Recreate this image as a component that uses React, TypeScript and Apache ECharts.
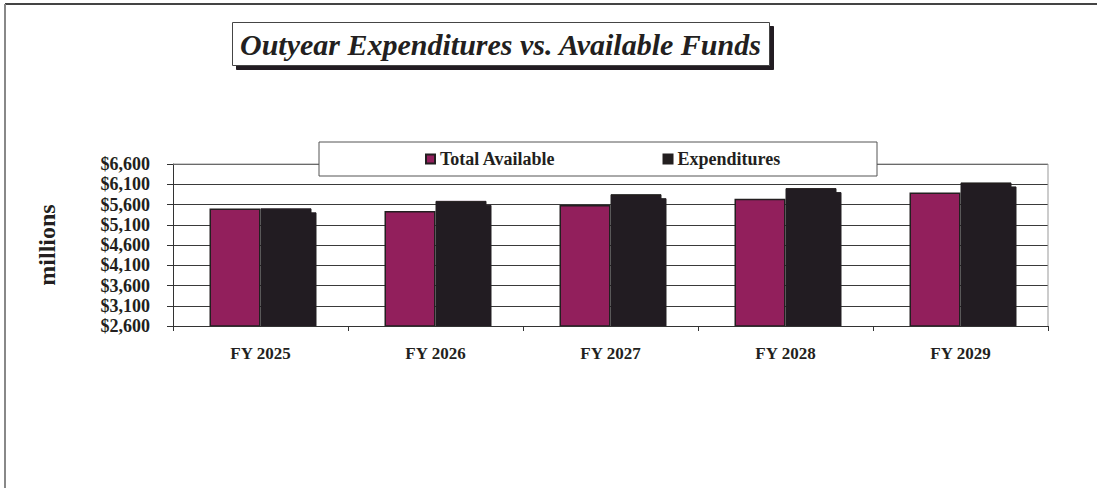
import React, { useEffect, useRef } from "react";
import * as echarts from "echarts";

const categories = ["FY 2025", "FY 2026", "FY 2027", "FY 2028", "FY 2029"];
const totalAvailable = [5500, 5440, 5590, 5740, 5895];
const expenditures = [5505, 5690, 5855, 6005, 6145];
const yTicks = [2600, 3100, 3600, 4100, 4600, 5100, 5600, 6100, 6600];
const seriesNames = ["Total Available", "Expenditures"];
const titleText = "Outyear Expenditures vs. Available Funds";
const yAxisName = "millions";

const SERIF = "Liberation Serif";
const PURPLE = "#921f5c";
const DARK = "#231f20";

export default function App() {
  const ref = useRef<HTMLDivElement>(null);

  useEffect(() => {
    document.body.style.margin = "0";
    if (!ref.current) return;
    const chart = echarts.init(ref.current, undefined, { renderer: "svg" });
    chart.setOption({
      animation: false,
      backgroundColor: "#ffffff",
      title: {
        text: titleText,
        left: 232,
        top: 22,
        padding: [7, 8, 7, 8],
        backgroundColor: "#ffffff",
        borderColor: "#444",
        borderWidth: 1,
        shadowColor: DARK,
        shadowOffsetX: 4,
        shadowOffsetY: 4,
        shadowBlur: 0,
        textStyle: {
          fontFamily: SERIF,
          fontStyle: "italic",
          fontWeight: "bold",
          fontSize: 30,
          color: DARK,
        },
        z: 10,
      },
      legend: {
        data: seriesNames,
        left: 425,
        top: 150,
        icon: "rect",
        itemWidth: 9,
        itemHeight: 9,
        itemGap: 107,
        padding: 0,
        textStyle: {
          fontFamily: SERIF,
          fontWeight: "bold",
          fontSize: 18,
          color: DARK,
        },
        z: 10,
      },
      graphic: [
        {
          type: "rect",
          z: 5,
          shape: { x: 319, y: 142, width: 558, height: 34 },
          style: { fill: "#ffffff", stroke: "#555", lineWidth: 1 },
        },
        {
          type: "rect",
          z: 4,
          shape: { x: 174, y: 327, width: 880, height: 6 },
          style: { fill: "#ffffff" },
        },
        {
          type: "line",
          z: 1,
          shape: { x1: 173, y1: 164, x2: 1048, y2: 164 },
          style: { stroke: "#999", lineWidth: 1 },
        },
        {
          type: "line",
          z: 1,
          shape: { x1: 1048, y1: 164, x2: 1048, y2: 326 },
          style: { stroke: "#999", lineWidth: 1 },
        },
        {
          type: "line",
          z: 1,
          shape: { x1: 5, y1: 4, x2: 1097, y2: 4 },
          style: { stroke: "#444", lineWidth: 2 },
        },
        {
          type: "line",
          z: 1,
          shape: { x1: 5, y1: 4, x2: 5, y2: 488 },
          style: { stroke: "#888", lineWidth: 2 },
        },
      ],
      grid: { left: 173, right: 49, top: 164, bottom: 162, containLabel: false },
      xAxis: {
        type: "category",
        data: categories,
        z: 6,
        axisLine: { lineStyle: { color: "#333", width: 1 } },
        axisTick: { show: true, length: 5, lineStyle: { color: "#333" } },
        axisLabel: {
          margin: 19,
          fontFamily: SERIF,
          fontWeight: "bold",
          fontSize: 17,
          color: DARK,
        },
      },
      yAxis: {
        type: "value",
        min: 2600,
        max: 6600,
        name: yAxisName,
        nameLocation: "middle",
        nameRotate: 90,
        nameGap: 114,
        nameTextStyle: {
          fontFamily: SERIF,
          fontWeight: "bold",
          fontSize: 24,
          color: DARK,
        },
        axisLine: { show: true, lineStyle: { color: "#333", width: 1 } },
        axisTick: { show: true, length: 6, lineStyle: { color: "#333" }, customValues: yTicks },
        axisLabel: {
          customValues: yTicks,
          margin: 23,
          fontFamily: SERIF,
          fontWeight: "bold",
          fontSize: 18,
          color: DARK,
          formatter: (v: number) => "$" + v.toLocaleString("en-US"),
        },
        splitLine: { show: true, lineStyle: { color: "#3a3a3a", width: 1 } },
      },
      series: [
        {
          name: seriesNames[0],
          type: "bar",
          data: totalAvailable,
          barWidth: 51,
          barGap: "0%",
          itemStyle: { color: PURPLE, borderColor: DARK, borderWidth: 1.5 },
        },
        {
          name: seriesNames[1],
          type: "bar",
          data: expenditures,
          barWidth: 51,
          barGap: "0%",
          itemStyle: {
            color: DARK,
            borderColor: DARK,
            borderWidth: 1,
            shadowColor: DARK,
            shadowOffsetX: 5,
            shadowOffsetY: 4,
            shadowBlur: 0,
          },
        },
      ],
    });
    return () => chart.dispose();
  }, []);

  return <div ref={ref} style={{ width: 1097, height: 488 }} />;
}
